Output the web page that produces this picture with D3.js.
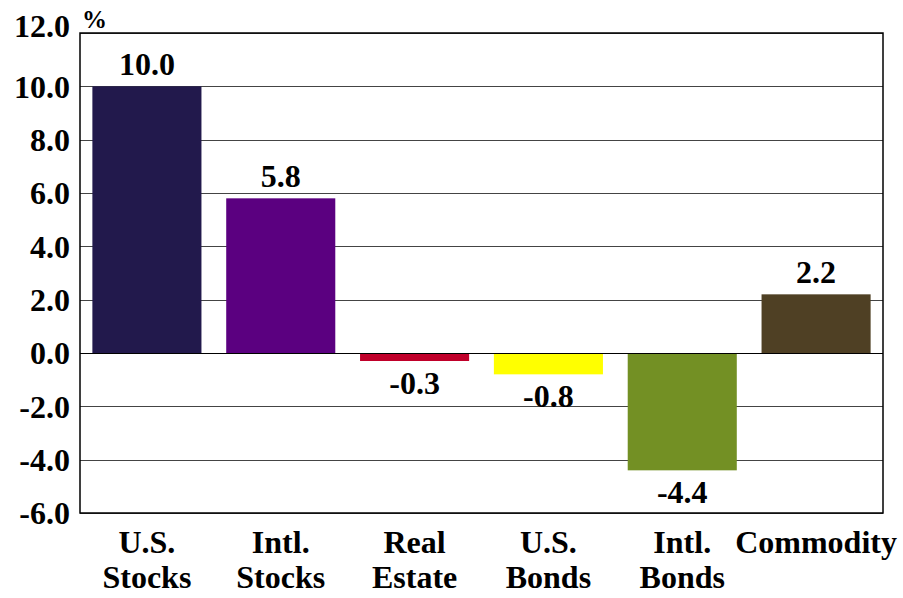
<!DOCTYPE html>
<html><head><meta charset="utf-8">
<script src="https://cdn.jsdelivr.net/npm/d3@7"></script>
<style>body{margin:0;background:#fff}svg{display:block}</style>
</head><body>
<svg id="c" width="903" height="598"></svg>
<script>
const categories = [["U.S.","Stocks"],["Intl.","Stocks"],["Real","Estate"],["U.S.","Bonds"],["Intl.","Bonds"],["Commodity"]];
const values = [10.0, 5.8, -0.3, -0.8, -4.4, 2.2];
const colors = ["#22194c", "#5b0080", "#c0002a", "#ffff00", "#739024", "#4f4024"];
const tickValues = [-6, -4, -2, 0, 2, 4, 6, 8, 10, 12];
const unitLabel = "%";

const svg = d3.select("#c");
const m = {l: 80, r: 20, t: 33, b: 85};
const W = 903, H = 598;
const x = d3.scaleBand().domain(d3.range(values.length)).range([m.l, W - m.r]).paddingInner(0.185).paddingOuter(0.0925);
const y = d3.scaleLinear().domain([-6, 12]).range([H - m.b, m.t]);
const font = "'Liberation Serif','Times New Roman',serif";
const fmt = d => d3.format(".1f")(d).replace("\u2212", "-");
const FS = 32;

// gridlines
svg.append("g").selectAll("line").data(tickValues).join("line")
  .attr("x1", m.l).attr("x2", W - m.r)
  .attr("y1", d => Math.round(y(d)) + 0.5).attr("y2", d => Math.round(y(d)) + 0.5)
  .attr("stroke", d => d === 0 ? "#000" : "#444").attr("stroke-width", 1.2);

// bars
svg.append("g").selectAll("rect").data(values).join("rect")
  .attr("x", (d, i) => x(i)).attr("width", x.bandwidth())
  .attr("y", d => y(Math.max(0, d))).attr("height", d => Math.abs(y(d) - y(0)))
  .attr("fill", (d, i) => colors[i]);

// zero line on top
svg.append("line").attr("x1", m.l).attr("x2", W - m.r).attr("y1", Math.round(y(0)) + 0.5).attr("y2", Math.round(y(0)) + 0.5).attr("stroke", "#000").attr("stroke-width", 1.2);

// frame
svg.append("rect").attr("x", m.l).attr("y", m.t).attr("width", W - m.r - m.l).attr("height", y(-6) - y(12))
  .attr("fill", "none").attr("stroke", "#000").attr("stroke-width", 1.5);

// y axis tick labels
const yAxis = d3.axisLeft(y).tickValues(tickValues).tickSize(0).tickPadding(10).tickFormat(fmt);
const ya = svg.append("g").attr("transform", `translate(${m.l},0)`).call(yAxis);
ya.select(".domain").remove();
ya.selectAll("text").attr("font-family", font).attr("font-weight", "bold").attr("font-size", FS).attr("fill", "#000")
  .attr("dy", d => d === 12 ? "0.1em" : "0.34em");

// unit label
svg.append("text").attr("x", 82).attr("y", 28).text(unitLabel)
  .attr("font-family", font).attr("font-weight", "bold").attr("font-size", 25);

// value labels
svg.append("g").selectAll("text").data(values).join("text")
  .attr("x", (d, i) => x(i) + x.bandwidth() / 2)
  .attr("y", d => d >= 0 ? y(d) - 11 : y(d) + 33)
  .attr("text-anchor", "middle")
  .attr("font-family", font).attr("font-weight", "bold").attr("font-size", FS)
  .text(fmt);

// category labels
const cg = svg.append("g").selectAll("text").data(categories).join("text")
  .attr("text-anchor", "middle")
  .attr("font-family", font).attr("font-weight", "bold").attr("font-size", FS);
cg.selectAll("tspan").data((d, i) => d.map(s => ({s, i}))).join("tspan")
  .attr("x", d => x(d.i) + x.bandwidth() / 2)
  .attr("y", (d, j) => 553 + j * 35)
  .text(d => d.s);
</script>
</body></html>
